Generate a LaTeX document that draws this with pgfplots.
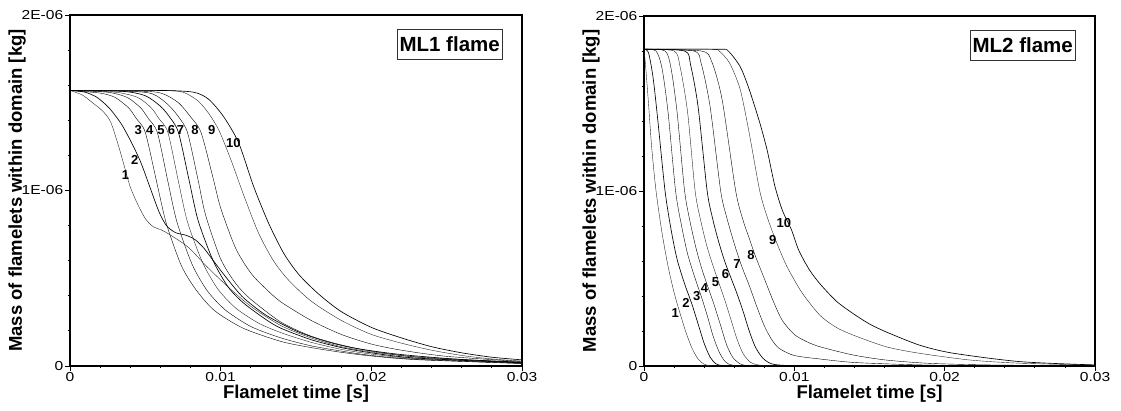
\documentclass[border=0pt]{standalone}
\usepackage{pgfplots}
\pgfplotsset{compat=1.18}
\usepackage{fontspec}
\usepackage{graphicx}
\setmainfont{Liberation Sans}
\newcommand{\tl}[1]{\scalebox{1.2}[1]{#1}}
\pgfplotsset{
  flame/.style={
    scale only axis,
    xmin=0, xmax=0.03, ymin=0, ymax=2,
    scaled x ticks=false, scaled y ticks=false,
    xtick={0,0.01,0.02,0.03},
    xticklabels={\tl{0},\tl{0.01},\tl{0.02},\tl{0.03}},
    ytick={0,1,2},
    yticklabels={\tl{0},\tl{1E-06},\tl{2E-06}},
    minor x tick num=4,
    minor y tick num=4,
    xtick pos=bottom, ytick pos=left,
    tick align=outside,
    major tick length=5pt,
    minor tick length=2.5pt,
    tick style={black, line width=0.8pt},
    axis line style={black, line width=1.4pt},
    ticklabel style={font=\fontsize{13}{13}\selectfont, inner sep=1.5pt},
    xlabel={Flamelet time [s]},
    ylabel={Mass of flamelets within domain [kg]},
    label style={font=\fontsize{18.5}{18.5}\selectfont\bfseries},
    xlabel style={at={(axis description cs:0.5,-0.08)}, anchor=center},
    ylabel style={at={(axis description cs:-0.117,0.5)}, anchor=center},
    cycle list={{black!85, line width=0.65pt, solid, mark=none}},
    every axis plot/.append style={smooth, tension=0.45, mark=none},
    clip=true,
  },
}
\tikzset{
  lab/.style={font=\fontsize{13}{13}\selectfont\bfseries, inner sep=0pt},
  boxlab/.style={draw=black!80, line width=0.6pt, font=\fontsize{20.5}{20.5}\selectfont\bfseries, text height=15pt, text depth=0pt, inner xsep=2pt, inner ysep=7.5pt, anchor=north east},
}
\begin{document}
\begin{tikzpicture}
\path[use as bounding box] (0pt,0pt) rectangle (1121pt,411pt);
% ---------------- ML1 ----------------
\begin{axis}[flame, at={(70pt,45pt)}, anchor=south west, width=452pt, height=351pt]
% curve 1
\addplot coordinates {(0,1.57)(0.0008,1.545)(0.0015,1.50)(0.0022,1.45)(0.0027,1.39)(0.0032,1.26)(0.0036,1.14)(0.0040,1.02)(0.0045,0.92)(0.0050,0.84)(0.0055,0.795)(0.0063,0.765)(0.0078,0.68)(0.0091,0.565)(0.0105,0.45)(0.012,0.34)(0.014,0.23)(0.016,0.16)(0.018,0.11)(0.020,0.08)(0.023,0.05)(0.026,0.033)(0.030,0.02)};
% curve 2
\addplot coordinates {(0,1.57)(0.001,1.56)(0.0018,1.53)(0.0026,1.47)(0.0034,1.38)(0.0041,1.27)(0.0047,1.16)(0.0053,1.02)(0.0059,0.88)(0.0064,0.80)(0.0070,0.76)(0.0077,0.745)(0.0083,0.72)(0.0089,0.67)(0.0096,0.59)(0.0105,0.49)(0.0115,0.39)(0.013,0.29)(0.015,0.20)(0.017,0.14)(0.019,0.10)(0.022,0.065)(0.026,0.037)(0.030,0.022)};
% curve 3
\addplot coordinates {(0,1.57)(0.002,1.555)(0.003,1.53)(0.0039,1.47)(0.0044,1.41)(0.0050,1.33)(0.0058,1.03)(0.0064,0.81)(0.0074,0.57)(0.0084,0.43)(0.0096,0.315)(0.0115,0.215)(0.014,0.14)(0.016,0.105)(0.018,0.078)(0.020,0.057)(0.023,0.036)(0.030,0.014)};
% curve 4
\addplot coordinates {(0,1.57)(0.0025,1.56)(0.0038,1.53)(0.0047,1.47)(0.0052,1.41)(0.0058,1.33)(0.0065,1.05)(0.0071,0.82)(0.0081,0.58)(0.0091,0.43)(0.0103,0.32)(0.0120,0.225)(0.014,0.16)(0.016,0.115)(0.018,0.085)(0.020,0.06)(0.023,0.038)(0.030,0.015)};
% curve 5
\addplot coordinates {(0,1.57)(0.003,1.56)(0.0045,1.53)(0.0054,1.47)(0.0059,1.41)(0.0065,1.33)(0.0072,1.05)(0.0078,0.82)(0.0088,0.59)(0.0098,0.44)(0.0110,0.33)(0.0125,0.245)(0.014,0.19)(0.016,0.135)(0.018,0.095)(0.020,0.068)(0.023,0.042)(0.030,0.016)};
% curve 6
\addplot coordinates {(0,1.57)(0.0035,1.565)(0.005,1.54)(0.006,1.48)(0.0066,1.42)(0.0072,1.33)(0.0079,1.06)(0.0085,0.83)(0.0095,0.60)(0.0105,0.45)(0.0115,0.36)(0.0130,0.265)(0.014,0.215)(0.016,0.15)(0.018,0.105)(0.020,0.075)(0.023,0.045)(0.030,0.018)};
% curve 7
\addplot coordinates {(0,1.57)(0.004,1.565)(0.0055,1.55)(0.0065,1.49)(0.0072,1.42)(0.0078,1.33)(0.0085,1.06)(0.0090,0.86)(0.0100,0.61)(0.0110,0.47)(0.0120,0.38)(0.0140,0.25)(0.016,0.17)(0.018,0.12)(0.020,0.085)(0.023,0.052)(0.030,0.02)};
% curve 8
\addplot coordinates {(0,1.57)(0.005,1.565)(0.0062,1.55)(0.0072,1.50)(0.0080,1.42)(0.0087,1.33)(0.0095,1.07)(0.0100,0.90)(0.0110,0.67)(0.0120,0.53)(0.0130,0.44)(0.0140,0.365)(0.016,0.26)(0.018,0.18)(0.020,0.125)(0.022,0.09)(0.025,0.055)(0.030,0.025)};
% curve 9
\addplot coordinates {(0,1.57)(0.006,1.57)(0.0075,1.56)(0.0085,1.51)(0.0092,1.44)(0.0099,1.34)(0.0107,1.17)(0.0115,0.98)(0.0125,0.76)(0.0135,0.60)(0.0145,0.49)(0.016,0.37)(0.018,0.26)(0.020,0.18)(0.022,0.13)(0.024,0.09)(0.026,0.06)(0.028,0.04)(0.030,0.028)};
% curve 10
\addplot coordinates {(0,1.57)(0.006,1.57)(0.0082,1.56)(0.0092,1.52)(0.0102,1.42)(0.0112,1.27)(0.0122,1.02)(0.0132,0.81)(0.0142,0.64)(0.0152,0.52)(0.0165,0.41)(0.018,0.31)(0.020,0.22)(0.022,0.16)(0.024,0.11)(0.026,0.075)(0.028,0.05)(0.030,0.035)};
\node[lab] at (axis cs:0.00368,1.088) {1};
\node[lab] at (axis cs:0.00430,1.174) {2};
\node[lab] at (axis cs:0.00453,1.345) {3};
\node[lab] at (axis cs:0.00530,1.345) {4};
\node[lab] at (axis cs:0.00604,1.345) {5};
\node[lab] at (axis cs:0.00673,1.345) {6};
\node[lab] at (axis cs:0.00733,1.345) {7};
\node[lab] at (axis cs:0.00830,1.345) {8};
\node[lab] at (axis cs:0.00940,1.345) {9};
\node[lab] at (axis cs:0.01085,1.269) {10};
\node[boxlab] at (axis description cs:0.956,0.960) {ML1 flame};
\end{axis}
% ---------------- ML2 ----------------
\begin{axis}[flame, at={(644pt,45pt)}, anchor=south west, width=451pt, height=350pt]
% curve 1
\addplot coordinates {(0,1.81)(0.0001,1.72)(0.0003,1.50)(0.0005,1.26)(0.0008,1.0)(0.0012,0.76)(0.0016,0.57)(0.0020,0.42)(0.0024,0.30)(0.0028,0.19)(0.0032,0.10)(0.0036,0.04)(0.0040,0.01)(0.0045,0.002)(0.006,0)(0.03,0)};
% curve 2
\addplot coordinates {(0,1.81)(0.0003,1.79)(0.0006,1.65)(0.0009,1.42)(0.0014,1.0)(0.0018,0.78)(0.0022,0.61)(0.0027,0.47)(0.0032,0.35)(0.0036,0.24)(0.0040,0.13)(0.0044,0.05)(0.0048,0.012)(0.0053,0.002)(0.007,0)(0.03,0)};
% curve 3
\addplot coordinates {(0,1.81)(0.0008,1.80)(0.0012,1.70)(0.0016,1.45)(0.0021,1.0)(0.0025,0.80)(0.0029,0.64)(0.0034,0.50)(0.0038,0.40)(0.0042,0.29)(0.0046,0.17)(0.0050,0.08)(0.0054,0.025)(0.0059,0.005)(0.0075,0)(0.03,0)};
% curve 4
\addplot coordinates {(0,1.81)(0.0014,1.80)(0.0018,1.70)(0.0022,1.45)(0.0027,1.0)(0.0031,0.81)(0.0035,0.66)(0.0039,0.54)(0.0043,0.44)(0.0047,0.34)(0.0051,0.23)(0.0055,0.12)(0.0059,0.05)(0.0064,0.012)(0.0070,0.002)(0.009,0)(0.03,0)};
% curve 5
\addplot coordinates {(0,1.81)(0.0020,1.80)(0.0024,1.71)(0.0029,1.45)(0.0034,1.0)(0.0038,0.82)(0.0042,0.68)(0.0046,0.57)(0.0050,0.47)(0.0054,0.37)(0.0058,0.26)(0.0062,0.15)(0.0066,0.07)(0.0071,0.02)(0.0078,0.004)(0.010,0)(0.03,0)};
% curve 6
\addplot coordinates {(0,1.81)(0.0027,1.80)(0.0031,1.72)(0.0036,1.48)(0.0042,1.0)(0.0046,0.83)(0.0050,0.70)(0.0054,0.59)(0.0058,0.50)(0.0062,0.41)(0.0066,0.31)(0.0070,0.20)(0.0074,0.11)(0.0079,0.045)(0.0085,0.012)(0.0095,0.003)(0.012,0)(0.03,0)};
% curve 7
\addplot coordinates {(0,1.81)(0.0033,1.80)(0.0038,1.73)(0.0044,1.48)(0.0051,1.0)(0.0055,0.85)(0.0060,0.70)(0.0065,0.57)(0.0070,0.46)(0.0075,0.34)(0.0080,0.23)(0.0085,0.15)(0.0090,0.10)(0.0100,0.06)(0.0117,0.04)(0.014,0.02)(0.018,0.007)(0.022,0.002)(0.03,0)};
% curve 8
\addplot coordinates {(0,1.81)(0.0038,1.80)(0.0045,1.74)(0.0052,1.52)(0.0061,1.0)(0.0066,0.83)(0.0070,0.73)(0.0074,0.63)(0.0080,0.50)(0.0086,0.37)(0.0092,0.26)(0.0100,0.18)(0.0108,0.14)(0.0117,0.11)(0.0139,0.063)(0.0161,0.034)(0.019,0.015)(0.023,0.006)(0.03,0.001)};
% curve 9
\addplot coordinates {(0,1.81)(0.0045,1.81)(0.0050,1.80)(0.0057,1.73)(0.0064,1.58)(0.0070,1.33)(0.0077,1.0)(0.0082,0.85)(0.0088,0.71)(0.0095,0.57)(0.0105,0.42)(0.0117,0.29)(0.0128,0.22)(0.0139,0.177)(0.0161,0.11)(0.0183,0.073)(0.0217,0.034)(0.025,0.016)(0.03,0.005)};
% curve 10
\addplot coordinates {(0,1.81)(0.0050,1.81)(0.0056,1.80)(0.0064,1.71)(0.0070,1.58)(0.0077,1.39)(0.0082,1.23)(0.0087,1.03)(0.0092,0.89)(0.0098,0.78)(0.0103,0.66)(0.0110,0.55)(0.0117,0.47)(0.0128,0.37)(0.0139,0.30)(0.0150,0.24)(0.0161,0.195)(0.0183,0.12)(0.0205,0.074)(0.025,0.025)(0.03,0.006)};
\node[lab] at (axis cs:0.00208,0.301) {1};
\node[lab] at (axis cs:0.00280,0.362) {2};
\node[lab] at (axis cs:0.00350,0.402) {3};
\node[lab] at (axis cs:0.00402,0.444) {4};
\node[lab] at (axis cs:0.00475,0.478) {5};
\node[lab] at (axis cs:0.00542,0.526) {6};
\node[lab] at (axis cs:0.00619,0.581) {7};
\node[lab] at (axis cs:0.00712,0.634) {8};
\node[lab] at (axis cs:0.00856,0.720) {9};
\node[lab] at (axis cs:0.00930,0.815) {10};
\node[boxlab] at (axis description cs:0.956,0.960) {ML2 flame};
\end{axis}
\end{tikzpicture}
\end{document}
